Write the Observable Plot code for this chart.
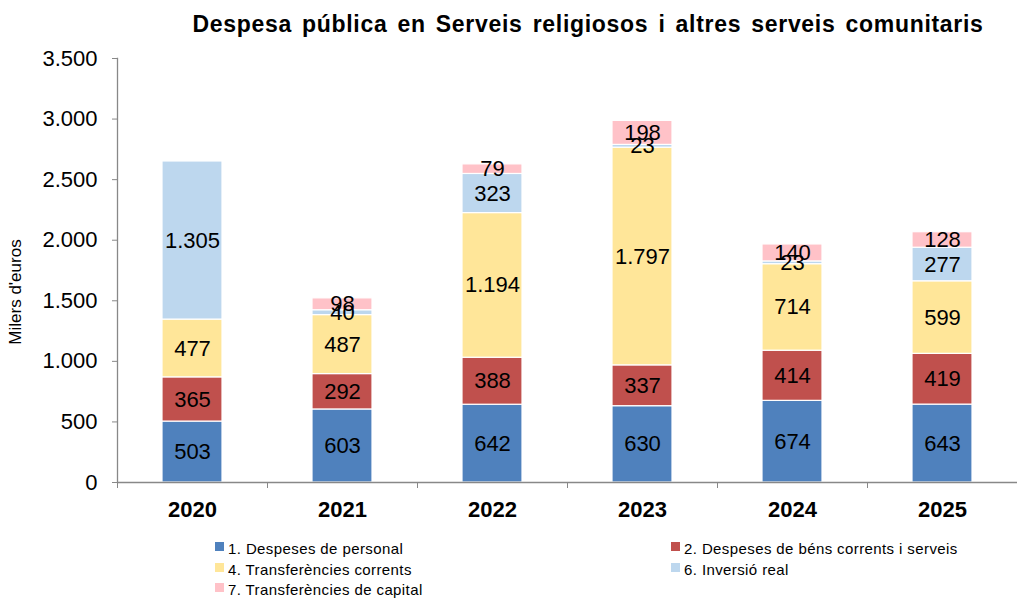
<!DOCTYPE html>
<html><head><meta charset="utf-8">
<script src="https://cdn.jsdelivr.net/npm/d3@7"></script>
<script src="https://cdn.jsdelivr.net/npm/@observablehq/plot@0.6"></script>
<style>
body{margin:0;background:#fff;font-family:"Liberation Sans",Arial,sans-serif;}
#wrap{position:relative;width:1018px;height:598px;overflow:hidden;background:#fff;}
#chart{position:absolute;left:0;top:0;}
#title{position:absolute;left:588px;top:11px;transform:translateX(-50%);white-space:nowrap;font-weight:bold;font-size:23px;letter-spacing:0.7px;word-spacing:3px;color:#000;}
#ylabel{position:absolute;left:15px;top:292px;transform:translate(-50%,-50%) rotate(-90deg);white-space:nowrap;font-size:17px;color:#000;line-height:1;}
.leg{position:absolute;font-size:15px;line-height:1;letter-spacing:0.4px;white-space:nowrap;color:#000;}
.sw{position:absolute;width:9px;height:9px;}
</style></head><body>
<div id="wrap">
  <div id="chart"></div>
  <div id="title">Despesa pública en Serveis religiosos i altres serveis comunitaris</div>
  <div id="ylabel">Milers d'euros</div>
  <div id="legend"></div>
</div>
<script>
const years = ["2020","2021","2022","2023","2024","2025"];
const series = [
  "1. Despeses de personal",
  "2. Despeses de béns corrents i serveis",
  "4. Transferències corrents",
  "6. Inversió real",
  "7. Transferències de capital"
];
const colors = ["#4F81BD","#C0504D","#FFE699","#BDD7EE","#FFC2C8"];
const personal = [503,603,642,630,674,643];
const bensCorrents = [365,292,388,337,414,419];
const transfCorrents = [477,487,1194,1797,714,599];
const inversioReal = [1305,40,323,23,23,277];
const transfCapital = [0,98,79,198,140,128];
const yTicks = [0,500,1000,1500,2000,2500,3000,3500];

const seriesValues = [personal,bensCorrents,transfCorrents,inversioReal,transfCapital];
const data = [];
years.forEach((yr,i)=>seriesValues.forEach((vals,j)=>data.push({year:yr, serie:series[j], value:vals[i]})));

const fmt = d3.formatLocale({decimal:",",thousands:".",grouping:[3],currency:["","€"]}).format(",d");

const W=1018, H=598, ML=117, MR=1, MT=58, MB=116;
const step = (W-ML-MR)/years.length;
const font = "'Liberation Sans', Arial, sans-serif";

const chart = Plot.plot({
  width: W, height: H, marginLeft: ML, marginRight: MR, marginTop: MT, marginBottom: MB,
  style: {fontFamily: font, color: "#000", background: "transparent", overflow: "visible"},
  x: {domain: years, paddingInner: 0.6, paddingOuter: 0.3, label: null},
  y: {domain: [0,3500], label: null},
  color: {domain: series, range: colors},
  marks: [
    Plot.barY(data, {x:"year", y:"value", fill:"serie", stroke:"white", strokeWidth:1.2}),
    Plot.text(data.filter(d=>d.value>0), Plot.stackY({x:"year", y:"value", z:"serie", text:d=>fmt(d.value), fontSize:22, fill:"#000"})),
    Plot.ruleY([0], {stroke:"#888", strokeWidth:1.3}),
    Plot.frame({anchor:"left", stroke:"#888", strokeWidth:1.3}),
    Plot.axisY({ticks: yTicks, tickFormat: fmt, tickSize: 5, tickPadding: 15, stroke:"#888", fill:"#000", fontSize:22}),
    Plot.axisX({tickSize: 6, dx: -step/2, tickFormat: () => "", stroke:"#888"}),
    Plot.axisX({tickSize: 0, tickPadding: 19, fontWeight:"bold", fontSize:22, fill:"#000"})
  ]
});
document.getElementById("chart").appendChild(chart);

// legend
const legend = document.getElementById("legend");
const legPos = [
  {col:0,row:0},{col:1,row:0},{col:0,row:1},{col:1,row:1},{col:0,row:2}
];
const colX = [215, 671];
const rowBase = [554, 575, 595];
series.forEach((s,i)=>{
  const p = legPos[i];
  const sw = document.createElement("div");
  sw.className = "sw";
  sw.style.left = colX[p.col] + "px";
  sw.style.top = (rowBase[p.row]-12) + "px";
  sw.style.background = colors[i];
  legend.appendChild(sw);
  const t = document.createElement("div");
  t.className = "leg";
  t.style.left = (colX[p.col]+13) + "px";
  t.style.top = (rowBase[p.row]-13) + "px";
  t.textContent = s;
  legend.appendChild(t);
});
</script>
</body></html>
